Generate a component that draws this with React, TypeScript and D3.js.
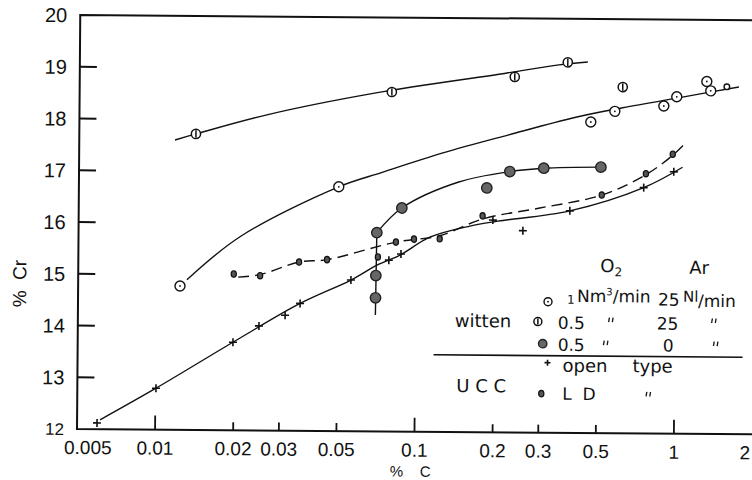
import React from 'react'
import * as d3 from 'd3'

// axis ticks
const xTicks = [0.005, 0.01, 0.02, 0.03, 0.05, 0.1, 0.2, 0.3, 0.5, 1, 2]
const xTickLabels = ['0.005', '0.01', '0.02', '0.03', '0.05', '0.1', '0.2', '0.3', '0.5', '1', '2']
const xLongTicks = [0.01, 0.1, 1]
const yTicks = [12, 13, 14, 15, 16, 17, 18, 19, 20]

// witten, O2 1 Nm3/min, Ar 25 Nl/min (open circles)
const openC = [0.01235, 0.0502, 0.468, 0.579, 0.894, 1.002, 1.307, 1.354]
const openCr = [14.78, 16.72, 18.01, 18.22, 18.33, 18.51, 18.81, 18.63]
const openSmallC = [1.562]
const openSmallCr = [18.71]
const openCurveC = [0.01313, 0.02097, 0.0502, 0.0742, 0.1262, 0.2263, 0.4097, 0.621, 1.066, 1.738]
const openCurveCr = [14.9, 15.74, 16.72, 17.01, 17.39, 17.75, 18.1, 18.29, 18.51, 18.71]

// witten, O2 0.5, Ar 25 (barred circles)
const barC = [0.01408, 0.0799, 0.2376, 0.38, 0.62]
const barCr = [17.72, 18.56, 18.87, 19.16, 18.69]
const barCurveC = [0.0117, 0.01408, 0.0264, 0.0694, 0.2195, 0.351, 0.454]
const barCurveCr = [17.6, 17.72, 18.1, 18.54, 18.94, 19.11, 19.17]

// witten, O2 0.5, Ar 0 (filled circles)
const fillC = [0.0701, 0.0702, 0.0706, 0.088, 0.1868, 0.2289, 0.3093, 0.5135]
const fillCr = [14.58, 15.01, 15.84, 16.32, 16.72, 17.04, 17.11, 17.14]
const fillStemC = [0.0701, 0.0706]
const fillStemCr = [14.25, 15.84]
const fillCurveC = [0.0706, 0.088, 0.1455, 0.2289, 0.3093, 0.5135]
const fillCurveCr = [15.84, 16.32, 16.83, 17.04, 17.11, 17.14]

// UCC open type (+)
const plusC = [0.00597, 0.01005, 0.01984, 0.02496, 0.03145, 0.0359, 0.0563, 0.0787, 0.0876, 0.1976, 0.2581, 0.391, 0.752, 0.981]
const plusCr = [12.12, 12.8, 13.7, 14.02, 14.23, 14.46, 14.92, 15.31, 15.43, 16.1, 15.9, 16.29, 16.75, 17.06]
const plusCurveC = [0.00613, 0.01005, 0.01984, 0.0359, 0.0563, 0.0708, 0.0868, 0.1131, 0.1612, 0.2066, 0.391, 0.752, 1.06]
const plusCurveCr = [12.18, 12.8, 13.7, 14.46, 14.92, 15.21, 15.41, 15.76, 15.98, 16.08, 16.29, 16.75, 17.15]

// UCC LD (small dots, dashed)
const ldC = [0.01989, 0.02513, 0.03548, 0.04546, 0.0714, 0.0837, 0.0982, 0.1234, 0.1803, 0.5185, 0.766, 0.971]
const ldCr = [15.02, 14.99, 15.26, 15.31, 15.37, 15.66, 15.72, 15.73, 16.18, 16.6, 17.02, 17.4]
const ldCurveC = [0.02068, 0.02513, 0.03548, 0.04546, 0.0837, 0.1233, 0.1803, 0.2993, 0.5185, 0.766, 0.971, 1.088]
const ldCurveCr = [14.96, 15.01, 15.26, 15.31, 15.66, 15.79, 16.12, 16.34, 16.6, 17.0, 17.38, 17.62]

const W = 752
const H = 480
const x = d3.scaleLog().domain([0.005, 2]).range([77, 752])
const y = d3.scaleLinear().domain([12, 20]).range([429, 15])

const tickFont = '"Liberation Sans", Arial, sans-serif'
const legFont = '"DejaVu Sans", sans-serif'

const path = (cs: number[], crs: number[], straight = false) =>
  d3.line<[number, number]>()
    .x(d => x(d[0]))
    .y(d => y(d[1]))
    .curve(straight ? d3.curveLinear : d3.curveCatmullRom.alpha(0.5))(d3.zip(cs, crs) as [number, number][]) || ''

const OpenMark = ({ cx, cy, r = 5 }: any) => (
  <g>
    <circle cx={cx} cy={cy} r={r} fill='#fff' stroke='#111' strokeWidth={1.4} />
    {r > 3 && <circle cx={cx} cy={cy} r={0.9} fill='#111' />}
  </g>
)
const BarMark = ({ cx, cy, r = 4.6 }: any) => (
  <g>
    <circle cx={cx} cy={cy} r={r} fill='#fff' stroke='#111' strokeWidth={1.5} />
    <line x1={cx} x2={cx} y1={cy - r + 1} y2={cy + r - 1} stroke='#111' strokeWidth={1.5} />
  </g>
)
const FillMark = ({ cx, cy, r = 5.2 }: any) => (
  <circle cx={cx} cy={cy} r={r} fill='#666' stroke='#222' strokeWidth={1.4} />
)
const PlusMark = ({ cx, cy, s = 4 }: any) => (
  <g stroke='#111' strokeWidth={1.6}>
    <line x1={cx - s} x2={cx + s} y1={cy} y2={cy} />
    <line x1={cx} x2={cx} y1={cy - s} y2={cy + s} />
  </g>
)
const LdMark = ({ cx, cy }: any) => (
  <ellipse cx={cx} cy={cy} rx={2.6} ry={3.2} fill='#555' stroke='#111' strokeWidth={1.2} />
)
// ditto mark, two short strokes
const Ditto = ({ cx, cy }: any) => (
  <g stroke='#111' strokeWidth={1.3}>
    <line x1={cx - 1.5} x2={cx - 2.2} y1={cy - 2.5} y2={cy + 2} />
    <line x1={cx + 2.2} x2={cx + 1.5} y1={cy - 2.5} y2={cy + 2} />
  </g>
)

export default function App() {
  return (
    <svg width={W} height={H} viewBox={`0 0 ${W} ${H}`}
      style={{ position: 'absolute', left: 0, top: 0, background: '#fff' }}>
      <g transform='rotate(0.45 77 429)'>
        {/* frame */}
        <path d={`M752,${y(20)}H${x(0.005)}V${y(12)}H752`} fill='none' stroke='#111' strokeWidth={2} />

        {yTicks.map(t => (
          <g key={'y' + t}>
            {t > 12 && t < 20 && <line x1={77} x2={94} y1={y(t)} y2={y(t)} stroke='#111' strokeWidth={2} />}
            <text x={64} y={y(t)} dy='0.36em' textAnchor='end' fontFamily={tickFont}
              fontSize={t === 12 ? 17 : 20} fill='#111'>{t}</text>
          </g>
        ))}

        {xTicks.map((t, i) => (
          <g key={'x' + t}>
            {t > 0.005 && t < 2 && (
              <line x1={x(t)} x2={x(t)} y1={429} y2={429 - (xLongTicks.includes(t) ? 14 : 8)}
                stroke='#111' strokeWidth={1.8} />
            )}
            <text x={Math.min(Math.max(x(t), 88), 745)} y={454} textAnchor='middle'
              fontFamily={tickFont} fontSize={19} fill='#111'>{xTickLabels[i]}</text>
          </g>
        ))}

        <text x={390} y={474} fontFamily={tickFont} fontSize={15} fill='#111' xmlSpace='preserve'>%    C</text>
        <text transform='translate(25,284) rotate(-90)' textAnchor='middle' fontFamily={tickFont}
          fontSize={19} fill='#111' xmlSpace='preserve'>%  Cr</text>

        {/* curves */}
        <g fill='none' stroke='#111' strokeWidth={1.4}>
          <path d={path(barCurveC, barCurveCr)} />
          <path d={path(openCurveC, openCurveCr)} />
          <path d={path(fillStemC, fillStemCr, true)} />
          <path d={path(fillCurveC, fillCurveCr)} />
          <path d={path(plusCurveC, plusCurveCr)} />
          <path d={path(ldCurveC, ldCurveCr)} strokeDasharray='11,6' />
        </g>

        {/* points */}
        {barC.map((c, i) => <BarMark key={'b' + i} cx={x(c)} cy={y(barCr[i])} />)}
        {openC.map((c, i) => <OpenMark key={'o' + i} cx={x(c)} cy={y(openCr[i])} />)}
        {openSmallC.map((c, i) => <OpenMark key={'os' + i} cx={x(c)} cy={y(openSmallCr[i])} r={2.8} />)}
        {fillC.map((c, i) => <FillMark key={'f' + i} cx={x(c)} cy={y(fillCr[i])} />)}
        {plusC.map((c, i) => <PlusMark key={'p' + i} cx={x(c)} cy={y(plusCr[i])} />)}
        {ldC.map((c, i) => <LdMark key={'l' + i} cx={x(c)} cy={y(ldCr[i])} />)}

        {/* legend */}
        <g fontFamily={legFont} fill='#111' fontSize={17}>
          <text x={599} y={268} fontSize={18}>O<tspan fontSize={12} dy={4}>2</tspan></text>
          <text x={688} y={269} fontSize={18}>Ar</text>

          <OpenMark cx={547} cy={298} r={4} />
          <text x={566} y={300} fontSize={12}>1</text>
          <text x={576} y={298}>Nm<tspan fontSize={10} dy={-7}>3</tspan><tspan dy={7}>/min</tspan></text>
          <text x={657} y={301}>25</text>
          <text x={682} y={297} fontSize={15}>Nl</text>
          <text x={697} y={302}>/min</text>

          <text x={454} y={324} fontSize={18}>witten</text>
          <BarMark cx={537} cy={318} r={4} />
          <text x={557} y={325}>0.5</text>
          <Ditto cx={610} cy={316} />
          <text x={656} y={325}>25</text>
          <Ditto cx={713} cy={316} />

          <FillMark cx={542} cy={340} r={4.2} />
          <text x={557} y={347}>0.5</text>
          <Ditto cx={605} cy={339} />
          <text x={662} y={347}>0</text>
          <Ditto cx={715} cy={339} />

          <line x1={433} x2={742} y1={352} y2={352} stroke='#111' strokeWidth={1.6} />

          <PlusMark cx={547} cy={359} s={3} />
          <text x={562} y={368} fontSize={18}>open</text>
          <text x={632} y={368} fontSize={18}>type</text>

          <text x={456} y={389} fontSize={18} xmlSpace='preserve'>U C C</text>
          <LdMark cx={541} cy={390} />
          <text x={562} y={396} xmlSpace='preserve'>L  D</text>
          <Ditto cx={648} cy={390} />
        </g>
      </g>
    </svg>
  )
}
